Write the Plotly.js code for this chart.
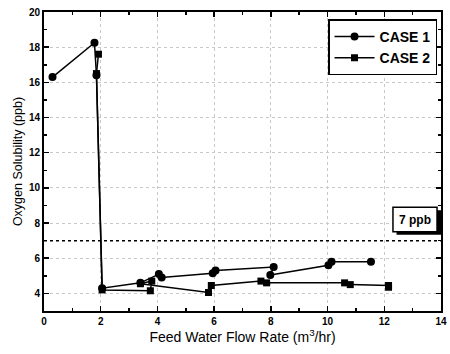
<!DOCTYPE html>
<html><head><meta charset="utf-8">
<script src="https://cdn.plot.ly/plotly-3.0.1.min.js"></script>
<style>body{margin:0;background:#fff}#c{width:450px;height:354px}</style>
</head><body><div id="c"></div>
<script>
const case1X = [0.3, 1.78, 1.85, 2.05, 3.4, 4.05, 4.15, 5.95, 6.05, 8.1, 7.98, 10.03, 10.14, 11.53];
const case1Y = [16.3, 18.25, 16.4, 4.3, 4.6, 5.1, 4.9, 5.15, 5.3, 5.5, 5.05, 5.6, 5.8, 5.8];
const case2X = [1.92, 1.85, 2.05, 3.75, 3.8, 3.4, 5.8, 5.9, 7.65, 7.85, 10.6, 10.8, 12.15, 12.15];
const case2Y = [17.6, 16.5, 4.2, 4.15, 4.7, 4.55, 4.05, 4.45, 4.7, 4.6, 4.6, 4.5, 4.45, 4.35];
const limitY = 7;
const limitLabel = '7 ppb';
const xTicks = [0, 2, 4, 6, 8, 10, 12, 14];
const yTicks = [4, 6, 8, 10, 12, 14, 16, 18, 20];

const tickFont = {family: 'Liberation Sans, Arial', size: 10, color: '#000', weight: 'bold'};
const data = [
  {x: case1X, y: case1Y, name: 'CASE 1', mode: 'lines+markers',
   line: {color: '#000', width: 1.5}, marker: {symbol: 'circle', size: 8, color: '#000'}},
  {x: case2X, y: case2Y, name: 'CASE 2', mode: 'lines+markers',
   line: {color: '#000', width: 1.5}, marker: {symbol: 'square', size: 7, color: '#000'}}
];
const axisCommon = {
  showline: true, linecolor: '#000', linewidth: 2, mirror: 'ticks',
  ticks: 'inside', ticklen: 5, tickwidth: 1.5, tickcolor: '#000',
  showgrid: true, gridcolor: '#c8c8c8', griddash: 'dot', gridwidth: 1,
  zeroline: false, tickfont: tickFont
};
const layout = {
  width: 450, height: 354,
  margin: {l: 44, r: 9, t: 12, b: 43},
  paper_bgcolor: '#fff', plot_bgcolor: '#fff',
  showlegend: true,
  legend: {x: 0.99, y: 0.975, xanchor: 'right', yanchor: 'top',
    bordercolor: '#000', borderwidth: 1.5, bgcolor: '#fff',
    font: {family: 'Liberation Sans, Arial', size: 14, color: '#000', weight: 'bold'},
    itemwidth: 40},
  xaxis: Object.assign({}, axisCommon, {range: [0, 14], tickvals: xTicks,
    minor: {ticks: 'inside', ticklen: 3, tickcolor: '#000', dtick: 1, tick0: 0, showgrid: false},
    title: {text: 'Feed Water Flow Rate (m<sup>3</sup>/hr)', standoff: 3,
      font: {family: 'Liberation Sans, Arial', size: 14, color: '#000'}}}),
  yaxis: Object.assign({}, axisCommon, {range: [3, 20], tickvals: yTicks,
    minor: {ticks: 'inside', ticklen: 3, tickcolor: '#000', dtick: 1, tick0: 0, showgrid: false},
    title: {text: 'Oxygen Solubility (ppb)', standoff: 4,
      font: {family: 'Liberation Sans, Arial', size: 12.5, color: '#000'}}}),
  shapes: [
    {type: 'line', xref: 'paper', x0: 0, x1: 1, yref: 'y', y0: limitY, y1: limitY,
     line: {color: '#000', width: 1.5, dash: 'dot'}},
    {type: 'rect', xref: 'paper', x0: 0.888, x1: 1.0, yref: 'y', y0: limitY + 0.33, y1: limitY + 1.73,
     fillcolor: '#000', line: {width: 0}},
    {type: 'rect', xref: 'paper', x0: 0.879, x1: 0.99, yref: 'y', y0: limitY + 0.5, y1: limitY + 1.9,
     fillcolor: '#fff', line: {color: '#000', width: 1.5}}
  ],
  annotations: [
    {xref: 'paper', x: 0.9345, yref: 'y', y: limitY + 1.2, xanchor: 'center', yanchor: 'middle',
     text: limitLabel, showarrow: false,
     font: {family: 'Liberation Sans, Arial', size: 12, color: '#000', weight: 'bold'}}
  ]
};
Plotly.newPlot('c', data, layout, {displayModeBar: false, staticPlot: true});
</script></body></html>
